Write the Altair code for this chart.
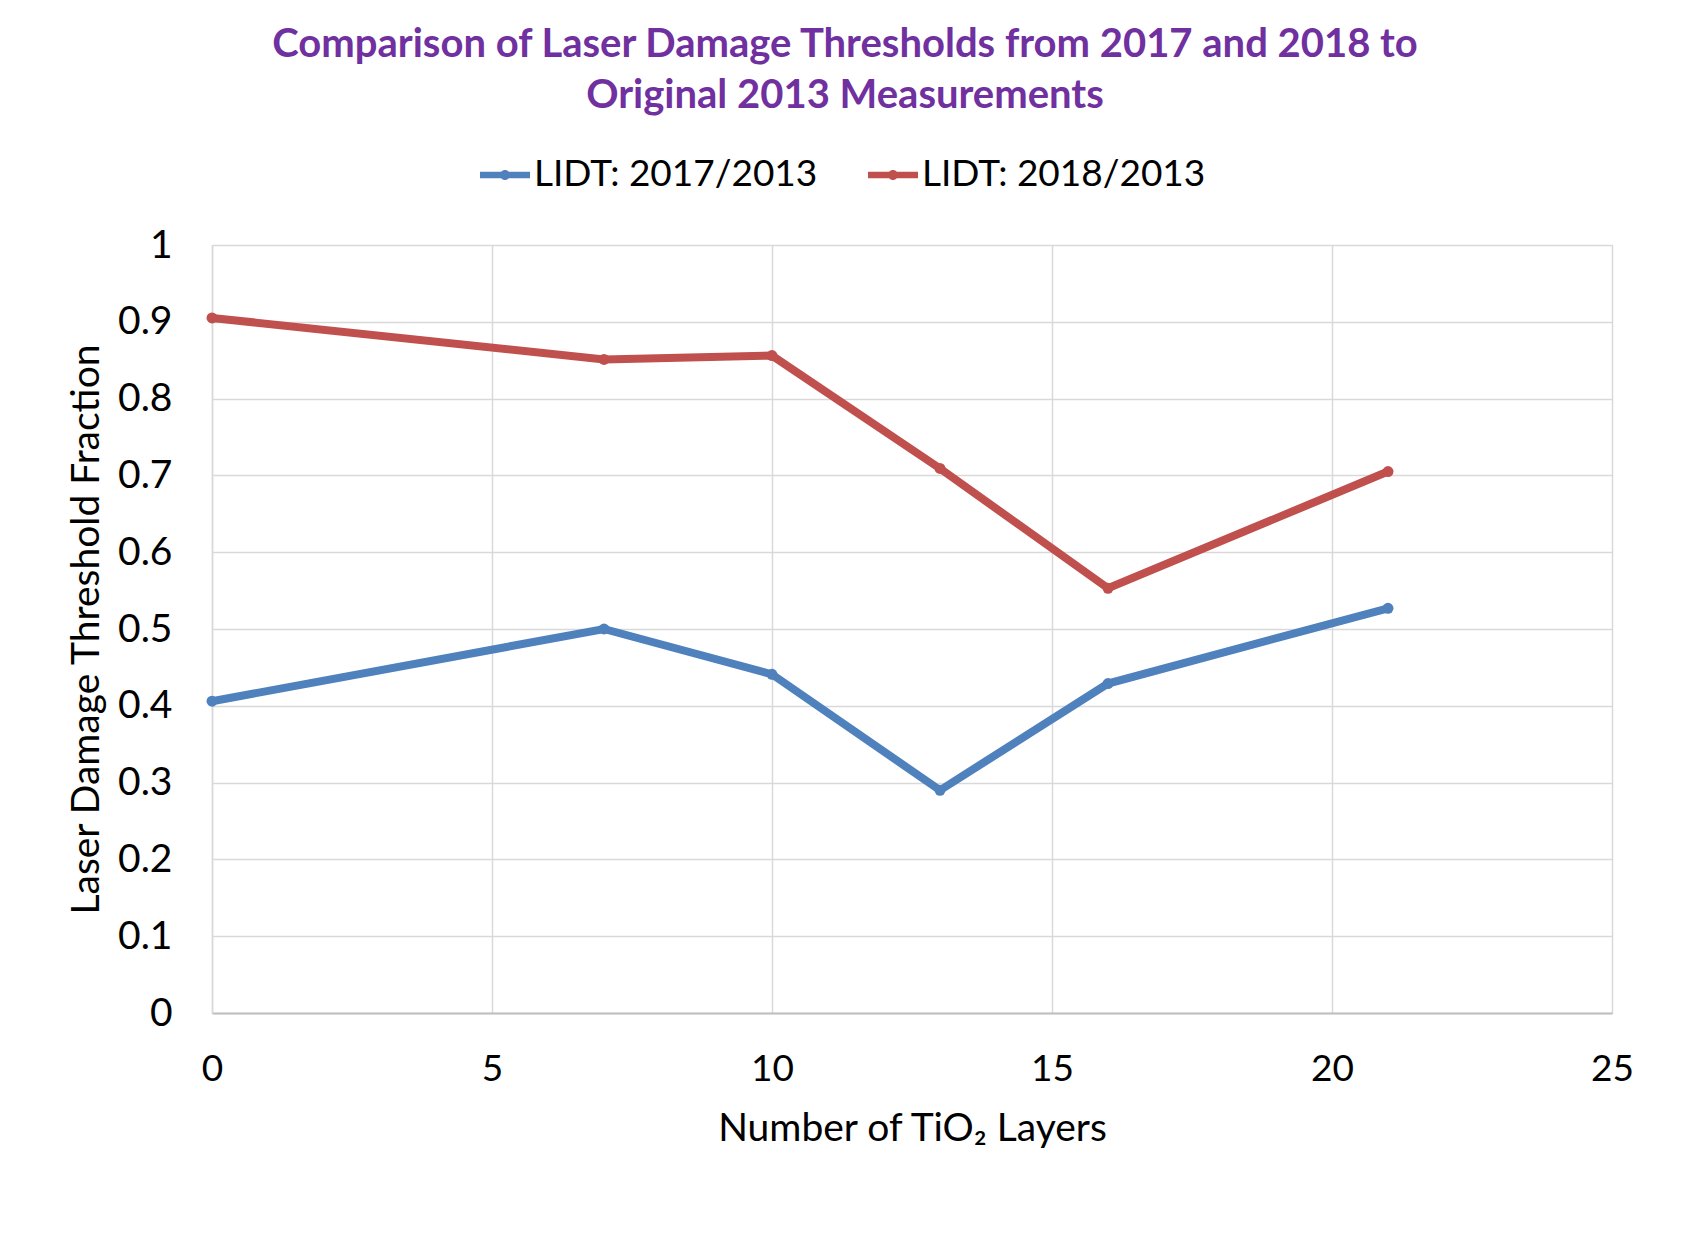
import altair as alt
import pandas as pd

layers = [0, 7, 10, 13, 16, 21]
lidt_2017 = [0.406, 0.500, 0.441, 0.290, 0.429, 0.527]
lidt_2018 = [0.905, 0.851, 0.856, 0.709, 0.553, 0.705]
series_names = ["LIDT: 2017/2013", "LIDT: 2018/2013"]
series_colors = ["#4F81BD", "#C0504D"]
y_ticks = [0, 0.1, 0.2, 0.3, 0.4, 0.5, 0.6, 0.7, 0.8, 0.9, 1]
x_ticks = [0, 5, 10, 15, 20, 25]

rows = []
for x, a, b in zip(layers, lidt_2017, lidt_2018):
    rows.append({"layers": x, "value": a, "series": series_names[0]})
    rows.append({"layers": x, "value": b, "series": series_names[1]})
df = pd.DataFrame(rows)

FONT = "Lato"
legend_path = ("M-1,-0.13L1,-0.13L1,0.13L-1,0.13Z "
               "M0.2,0A0.2,0.2 0 1,1 -0.2,0A0.2,0.2 0 1,1 0.2,0Z")

color = alt.Color(
    "series:N",
    scale=alt.Scale(domain=series_names, range=series_colors),
    legend=alt.Legend(
        title=None, orient="none", legendX=268, legendY=-95,
        direction="horizontal", labelFontSize=37, labelFont=FONT,
        labelColor="#000000", symbolType=legend_path, symbolSize=2500,
        symbolStrokeWidth=0, columnPadding=50, labelOffset=4, padding=0,
        symbolOpacity=1, labelLimit=0,
    ),
)

x = alt.X(
    "layers:Q",
    scale=alt.Scale(domain=[0, 25], nice=False),
    axis=alt.Axis(
        values=x_ticks, title="Number of TiO\u2082 Layers", ticks=False,
        labelFontSize=37, labelFont=FONT, labelColor="#000000", labelPadding=38,
        titleFontSize=39, titleFont=FONT, titleFontWeight="normal",
        titleColor="#000000", titleY=115, titleBaseline="middle",
        grid=True, gridColor="#d9d9d9", gridWidth=1.5,
        domainColor="#bfbfbf", domainWidth=2, labelFlush=False,
    ),
)
y = alt.Y(
    "value:Q",
    scale=alt.Scale(domain=[0, 1], nice=False),
    axis=alt.Axis(
        values=y_ticks, format="~g", title="Laser Damage Threshold Fraction",
        ticks=False, labelFontSize=39, labelFont=FONT, labelColor="#000000",
        labelPadding=40, titleFontSize=39, titleFont=FONT,
        titleFontWeight="normal", titleColor="#000000", titleAngle=270,
        titleX=-126, titleY=384, titleAlign="center", titleBaseline="middle",
        grid=True, gridColor="#d9d9d9", gridWidth=1.5,
        domainColor="#d9d9d9", domainWidth=1.5, labelFlush=False,
    ),
)

base = alt.Chart(df).encode(x=x, y=y, color=color)
line = base.mark_line(strokeWidth=8)
pts = base.mark_point(filled=True, size=120, opacity=1)

chart = alt.layer(line, pts).properties(
    width=1400,
    height=768,
    title=alt.TitleParams(
        text=["Comparison of Laser Damage Thresholds from 2017 and 2018 to",
              "Original 2013 Measurements"],
        fontSize=40, font=FONT, fontWeight="bold", color="#7030A0",
        anchor="middle", dx=-67, offset=34, lineHeight=51, frame="group",
    ),
    padding={"left": 204, "top": 237, "right": 60, "bottom": 200},
    autosize="none",
).configure_view(stroke="#d9d9d9", strokeWidth=1.5).configure(background="white")

chart.save("out.html", embed_options={"renderer": "svg", "actions": False})
